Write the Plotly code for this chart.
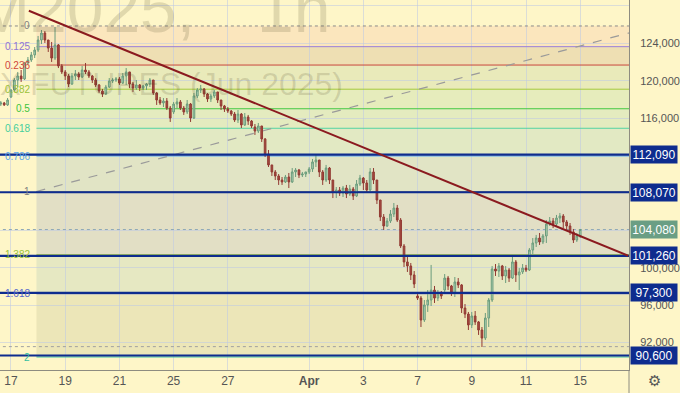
import plotly.graph_objects as go

# ---------------- data (hourly-ish bars, 8 bars per session) ----------------
bars_per_session = 8
first_session_slots = [5, 6, 7]          # only the last bars of Mar 14 are visible
last_session_slots = [0]                 # only the first bar of Apr 15

opens = [117510, 117620, 117410,
         118260, 119010, 120080, 120510, 120190, 121900, 122220, 122760,
         123290, 124360, 125110, 124360, 123500, 122430, 123830, 121580,
         120940, 120510, 119650, 120510, 120720, 120400, 121150, 120940,
         120510, 120080, 119550, 118900, 118580, 119330, 119970, 120080,
         120190, 119760, 120510, 120940, 119650, 119220, 119550, 119220,
         119440, 119650, 120080, 118690, 117940, 117620, 117830, 117080,
         116660, 117510, 117730, 117080, 116660, 117510, 116010, 118370,
         119010, 119120, 118580, 118050, 118370, 118800, 117940, 117300,
         116980, 116760, 116440, 115800, 116440, 115270, 116120, 115690,
         115050, 114620, 115160, 113770, 112160, 110990, 110240, 109810,
         109380, 109170, 109700, 109170, 110240, 110450, 109920, 110020,
         110240, 110560, 111310, 111520, 110240, 109380, 110660, 109380,
         108100, 108310, 107990, 108520, 107880, 108420, 107670, 108950,
         109590, 109060, 108310, 110240, 109380, 107240, 105420, 104460,
         104990, 105740, 106380, 105100, 102320, 100610, 100180, 99220,
         96970, 96750, 94400, 96010, 96540, 97610, 96750, 97180,
         97610, 98890, 98040, 97290, 98470, 98150, 95680, 95040,
         93870, 94830, 94190, 93330, 92470, 94610, 96540, 99860,
         99640, 100180, 99110, 99750, 98890, 100610, 99220, 99540,
         99960, 99750, 101890, 102640, 103170, 102750, 103390, 104670,
         104990, 104670, 105310, 105530, 104890, 104460, 103820, 102960,
         103390]

highs = [117830, 117730, 118150,
         119120, 120290, 120940, 121150, 122010, 122540, 123080, 123610,
         124790, 125430, 125320, 124360, 124150, 125750, 123930, 121790,
         121150, 120720, 120830, 121150, 120940, 121580, 121900, 121150,
         120620, 120290, 119650, 119120, 119550, 120290, 120290, 120400,
         120400, 120830, 121360, 120940, 119870, 120080, 119650, 119550,
         119760, 120290, 120080, 118800, 118260, 118150, 118150, 117300,
         117730, 118150, 117940, 117300, 117940, 117620, 118690, 119220,
         119550, 119220, 118690, 118580, 119010, 118800, 117940, 117410,
         117190, 116870, 116660, 116870, 116550, 116550, 116340, 115800,
         115370, 115480, 115160, 113870, 112590, 110990, 110450, 110020,
         109700, 109920, 110130, 110660, 110660, 110560, 110240, 110240,
         110770, 111630, 112060, 111520, 110450, 110990, 110770, 109380,
         108630, 108630, 108740, 108850, 108850, 108630, 109380, 109920,
         109700, 109380, 110660, 110660, 109380, 107240, 105740, 105310,
         106170, 106920, 106710, 105310, 102530, 101140, 100500, 99640,
         97180, 96970, 96540, 97610, 100290, 98040, 97610, 97500,
         99320, 99110, 98150, 99000, 98890, 98250, 96110, 95260,
         95260, 95360, 94290, 93650, 95150, 96750, 100180, 100390,
         100500, 100290, 100180, 99960, 101140, 100820, 99960, 100390,
         100290, 102100, 103170, 103500, 103710, 103600, 105100, 105420,
         105310, 105640, 105850, 105740, 105100, 104780, 104140, 103710,
         104140]

lows = [117300, 117300, 117300,
        118150, 118800, 119330, 119870, 120080, 121690, 122010, 122430,
        123080, 123930, 124040, 123080, 122010, 122220, 121360, 120720,
        120080, 119330, 119550, 120080, 120080, 120290, 120720, 120290,
        119760, 119330, 118690, 118260, 118480, 119220, 119760, 119870,
        119550, 119650, 119550, 119220, 118800, 119010, 118900, 119010,
        119010, 119330, 118480, 117410, 117410, 117190, 116870, 115590,
        116440, 117080, 116870, 116340, 116440, 115590, 115910, 118150,
        118690, 118260, 117730, 117730, 118150, 117620, 116870, 116660,
        116550, 116230, 115590, 115480, 114940, 115160, 115270, 114940,
        114200, 114410, 113450, 111840, 110770, 109810, 109380, 108850,
        108850, 109060, 108520, 109060, 109700, 109590, 109700, 109700,
        110020, 110240, 110770, 109700, 108850, 109170, 108950, 107450,
        107450, 107670, 107560, 107450, 107670, 107240, 107560, 108740,
        108310, 107990, 108200, 108950, 106810, 104990, 104030, 104350,
        104780, 105420, 104890, 102100, 100070, 99540, 98680, 97820,
        96540, 93650, 94190, 95260, 95900, 96220, 96430, 96650,
        97400, 97610, 96970, 96860, 97820, 95150, 94610, 93330,
        93540, 93870, 92800, 91510, 92260, 93650, 96330, 99110,
        99000, 98680, 98360, 98470, 98790, 98470, 97610, 99320,
        99540, 99640, 101460, 102210, 102430, 102530, 102640, 104460,
        104240, 104350, 104780, 104240, 104030, 103500, 102640, 102750,
        103170]

closes = [117620, 117410, 117940,
          119010, 120080, 120510, 120190, 121900, 122220, 122760, 123290,
          124360, 125110, 124360, 123500, 122430, 123830, 121580, 120940,
          120510, 119650, 120510, 120720, 120400, 121150, 120940, 120510,
          120080, 119550, 118900, 118580, 119330, 119970, 120080, 120190,
          119760, 120510, 120940, 119650, 119220, 119550, 119220, 119440,
          119650, 120080, 118690, 117940, 117620, 117830, 117080, 116010,
          117510, 117730, 117080, 116660, 117510, 116010, 118370, 119010,
          119120, 118580, 118050, 118370, 118800, 117940, 117300, 116980,
          116760, 116440, 115800, 116440, 115270, 116120, 115690, 115160,
          114620, 115160, 113770, 112160, 110990, 110240, 109810, 109380,
          109170, 109700, 109170, 110240, 110450, 109920, 110020, 110240,
          110560, 111310, 111520, 110240, 109380, 110660, 109380, 108100,
          108310, 107990, 108520, 107880, 108420, 107670, 108950, 109590,
          109060, 108310, 110240, 109380, 107240, 105420, 104460, 104990,
          105740, 106380, 105100, 102320, 100610, 100180, 99220, 98250,
          96750, 94400, 96010, 96540, 97610, 96750, 97180, 96970,
          98890, 98040, 97290, 98470, 98150, 95680, 95040, 93870,
          94830, 94190, 93330, 92470, 94610, 96540, 99860, 99640,
          100180, 99110, 99750, 98890, 100610, 99220, 99540, 99960,
          99750, 101890, 102640, 103170, 102750, 103390, 104670, 104990,
          104670, 105310, 105530, 104890, 104460, 103820, 102960, 103390,
          104080]

# x-axis ticks (session index, Mar 17 = 0)
tick_sessions = [0, 2, 4, 6, 8, 11, 13, 15, 17, 19, 21]
tick_labels = ["17", "19", "21", "25", "27", "<b>Apr</b>", "3", "7", "9", "11", "15"]

# price axis
price_ticks = [128000, 124000, 120000, 116000, 112000, 108000, 104000, 100000, 96000, 92000]
price_tick_text = ["128,000", "124,000", "120,000", "116,000", "", "", "", "100,000", "96,000", "92,000"]

# Fibonacci retracement (anchors)
fib_start_x = 0.94
fib_end_x = 23.76
fib_price_1 = 108150     # level 1
fib_price_0 = 125860     # level 0
fib_levels = [0, 0.125, 0.236, 0.382, 0.5, 0.618, 0.786, 1, 1.382, 1.618, 2]
fib_level_labels = ["0", "0.125", "0.236", "0.382", "0.5", "0.618", "0.786", "1", "1.382", "1.618", "2"]

# analyst horizontal levels
blue_levels = [112090, 108070, 101260, 97300, 90600]
blue_level_text = ["112,090", "108,070", "101,260", "97,300", "90,600"]
last_price = 104080
last_price_text = "104,080"
low_dotted_level = 91550

# down trend line
trend_x = [0.66, 22.77]
trend_y = [127495, 101280]

# ---------------- styling ----------------
BG = "#FEF6C8"
NAVY = "#0E2C8E"
fib_line_colors = ["#8a8a8a", "#9b7fd8", "#c9473d", "#a3c93c", "#43c843", "#53d3a3",
                   "#6bb0ee", "#8a8a8a", "#a3c93c", "#5566cc", "#3cc4a4"]
fib_label_colors = ["#808080", "#8f74d4", "#d0453a", "#9cc23a", "#3cc43c", "#45cf9c",
                    "#5aa6ea", "#808080", "#9cc23a", "#5566cc", "#33bfa0"]
fib_zone_colors = ["#FBE6BD", "#EEDFB3", "#E9EABA", "#E6ECBC", "#E4EBBF", "#E2E9C3",
                   "#E1E4C5", "#E2DFC5", "#E6E8C2", "#ECE6B8"]

# ---------------- build ----------------
x_pos = ([-1 + s / bars_per_session for s in first_session_slots] +
         [d + s / bars_per_session for d in range(21) for s in range(bars_per_session)] +
         [21 + s / bars_per_session for s in last_session_slots])

fig = go.Figure()
fig.add_trace(go.Candlestick(
    x=x_pos, open=opens, high=highs, low=lows, close=closes,
    increasing=dict(line=dict(color="#6a9c7c", width=1), fillcolor="#b3d2b6"),
    decreasing=dict(line=dict(color="#923a33", width=1), fillcolor="#a64a40"),
    whiskerwidth=0, showlegend=False, hoverinfo="skip"))

X_LEFT, X_RIGHT = -0.405, 22.80
Y_LOW, Y_HIGH = 89050, 128640

shapes = []
fib_prices = [fib_price_0 - lv * (fib_price_0 - fib_price_1) for lv in fib_levels]

# zones
for i in range(len(fib_prices) - 1):
    shapes.append(dict(type="rect", xref="x", yref="y", x0=fib_start_x, x1=fib_end_x,
                       y0=fib_prices[i + 1], y1=fib_prices[i], fillcolor=fib_zone_colors[i],
                       line=dict(width=0), layer="below"))
# fib lines
for i, p in enumerate(fib_prices):
    dash = "dot" if i == 0 else "solid"
    x0 = X_LEFT - 1 if i == 0 else fib_start_x
    shapes.append(dict(type="line", xref="x", yref="y", x0=x0, x1=fib_end_x, y0=p, y1=p,
                       line=dict(color=fib_line_colors[i], width=1, dash=dash), layer="between"))
# fib diagonal (dashed)
shapes.append(dict(type="line", xref="x", yref="y", x0=fib_start_x, x1=fib_end_x,
                   y0=fib_price_1, y1=fib_price_0,
                   line=dict(color="#9a9a9a", width=1.2, dash="dash"), layer="between"))
# dotted helper lines
shapes.append(dict(type="line", xref="x", yref="y", x0=X_LEFT - 1, x1=X_RIGHT + 1,
                   y0=last_price, y1=last_price, line=dict(color="#8fa8b8", width=1, dash="dot"),
                   layer="between"))
shapes.append(dict(type="line", xref="x", yref="y", x0=X_LEFT - 1, x1=X_RIGHT + 1,
                   y0=low_dotted_level, y1=low_dotted_level,
                   line=dict(color="#a0a0a0", width=1, dash="dot"), layer="between"))
# blue levels
for p in blue_levels:
    shapes.append(dict(type="line", xref="x", yref="y", x0=X_LEFT - 1, x1=X_RIGHT + 1,
                       y0=p, y1=p, line=dict(color=NAVY, width=2.2), layer="above"))
# trend line
shapes.append(dict(type="line", xref="x", yref="y", x0=trend_x[0], x1=trend_x[1],
                   y0=trend_y[0], y1=trend_y[1], line=dict(color="#8b1a1f", width=2), layer="above"))
# separator below x axis
shapes.append(dict(type="line", xref="paper", yref="paper", x0=1, x1=1, y0=-0.07, y1=0,
                   line=dict(color="#8e8c80", width=1)))

annotations = []
# watermark
WM = "rgba(70,60,30,0.16)"
annotations.append(dict(xref="paper", yref="paper", x=198 / 631, y=0.976, xanchor="right",
                        yanchor="middle", text="RIM2025,", showarrow=False,
                        font=dict(family="Liberation Sans", size=66, color=WM)))
annotations.append(dict(xref="paper", yref="paper", x=256 / 631, y=0.976, xanchor="left",
                        yanchor="middle", text="1h", showarrow=False,
                        font=dict(family="Liberation Sans", size=66, color=WM)))
annotations.append(dict(xref="paper", yref="paper", x=346 / 631, y=0.774, xanchor="right",
                        yanchor="middle", text="RTS INDEX FUTURES (Jun 2025)", showarrow=False,
                        font=dict(family="Liberation Sans", size=32, color=WM)))
# fib labels
for lbl, p, c in zip(fib_level_labels, fib_prices, fib_label_colors):
    annotations.append(dict(xref="x", yref="y", x=fib_start_x, y=p, xanchor="right",
                            yanchor="middle", xshift=-4, text=lbl, showarrow=False,
                            font=dict(family="Liberation Sans", size=10, color=c)))
# right axis boxes
for p, t in zip(blue_levels, blue_level_text):
    annotations.append(dict(xref="paper", yref="y", x=1, y=p, xanchor="left", yanchor="middle",
                            xshift=1, text=t, showarrow=False, bgcolor=NAVY, width=44, height=15,
                            borderpad=1, align="center",
                            font=dict(family="Liberation Sans", size=12, color="white")))
annotations.append(dict(xref="paper", yref="y", x=1, y=last_price, xanchor="left", yanchor="middle",
                        xshift=1, text=last_price_text, showarrow=False, bgcolor="#6a9e84",
                        width=44, height=15, borderpad=1, align="center",
                        font=dict(family="Liberation Sans", size=12, color="white")))
# settings gear
annotations.append(dict(xref="paper", yref="paper", x=657 / 631, y=-11 / 370, xanchor="center",
                        yanchor="middle", text="⚙", showarrow=False,
                        font=dict(family="DejaVu Sans", size=15, color="#555555")))

GRID = "rgba(190,200,228,0.55)"
fig.update_layout(
    width=680, height=393,
    margin=dict(l=0, r=49, t=0, b=23),
    paper_bgcolor=BG, plot_bgcolor=BG,
    shapes=shapes, annotations=annotations,
    showlegend=False,
    xaxis=dict(range=[X_LEFT, X_RIGHT], tickvals=tick_sessions, ticktext=tick_labels,
               showgrid=True, gridcolor=GRID, gridwidth=1, zeroline=False,
               showline=True, linecolor="#8e8c80", linewidth=1, ticks="",
               tickfont=dict(family="Liberation Sans", size=12, color="#555555"),
               rangeslider=dict(visible=False), fixedrange=True),
    yaxis=dict(range=[Y_LOW, Y_HIGH], side="right", tickvals=price_ticks, ticktext=price_tick_text,
               showgrid=True, gridcolor=GRID, gridwidth=1, zeroline=False,
               showline=True, linecolor="#8e8c80", linewidth=1, ticks="",
               ticklabelstandoff=8,
               tickfont=dict(family="Liberation Sans", size=11, color="#555555"), fixedrange=True),
)

fig.write_html("out.html", config={"displayModeBar": False, "staticPlot": True},
               post_script="document.body.style.margin='0';document.body.style.background='" + BG + "';")
